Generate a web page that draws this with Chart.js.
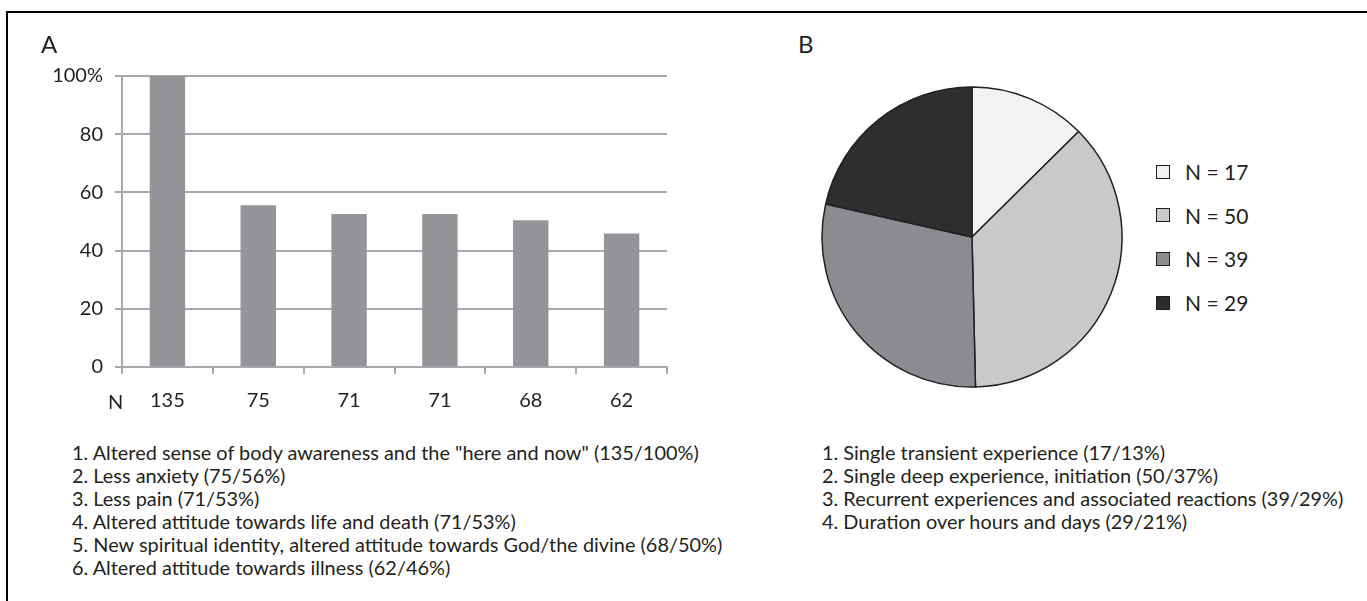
<!DOCTYPE html>
<html>
<head>
<meta charset="utf-8">
<script src="https://cdn.jsdelivr.net/npm/chart.js@4"></script>
<style>
  html, body { margin: 0; padding: 0; background: #fff; }
  #wrap { position: relative; width: 1367px; height: 601px; overflow: hidden; background: #fff; font-family: Lato, "Open Sans", sans-serif; color: #231f20; }
  #frame { position: absolute; left: 6px; top: 11px; right: -4px; bottom: -4px; border-top: 2px solid #000; border-left: 2px solid #000; }
  .abs { position: absolute; white-space: nowrap; }
  #cA { position: absolute; left: 0; top: 0; }
  #cB { position: absolute; left: 812px; top: 77px; }
  .panel { font-size: 24px; line-height: 1; }
  .list { font-size: 19.9px; line-height: 23px; }
  .leg { font-size: 21px; line-height: 1; display: flex; align-items: center; }
  .sw { width: 12px; height: 12px; border: 1px solid #231f20; margin-right: 15px; }
</style>
</head>
<body>
<div id="wrap">
  <div id="frame"></div>
  <canvas id="cA" width="700" height="420"></canvas>
  <canvas id="cB" width="320" height="320"></canvas>
  <div class="abs panel" style="left:41px; top:32px;">A</div>
  <div class="abs panel" style="left:798px; top:32px;">B</div>
  <div class="abs" id="nlab" style="left:108px; top:389px; font-size:20px; line-height:24px;">N</div>
  <div class="abs list" id="listA" style="left:72px; top:441px;"></div>
  <div class="abs list" id="listB" style="left:822px; top:441px;"></div>
  <div id="legB"></div>
</div>
<script>
// ---- Panel A data ----
const barCounts = ["135", "75", "71", "71", "68", "62"];
const barPercent = [100, 55.6, 52.6, 52.6, 50.4, 45.9];
const yTicks = [0, 20, 40, 60, 80, 100];
const itemsA = [
  '1. Altered sense of body awareness and the "here and now" (135/100%)',
  '2. Less anxiety (75/56%)',
  '3. Less pain (71/53%)',
  '4. Altered attitude towards life and death (71/53%)',
  '5. New spiritual identity, altered attitude towards God/the divine (68/50%)',
  '6. Altered attitude towards illness (62/46%)'
];

// ---- Panel B data ----
const pieCounts = [17, 50, 39, 29];
const pieColors = ['#f1f2f4', '#c8c9cb', '#8b8c90', '#2f2d30'];
const itemsB = [
  '1. Single transient experience (17/13%)',
  '2. Single deep experience, initiation (50/37%)',
  '3. Recurrent experiences and associated reactions (39/29%)',
  '4. Duration over hours and days (29/21%)'
];

document.getElementById('listA').innerHTML = itemsA.map(t => '<div>' + t.replace(/&/g,'&amp;').replace(/</g,'&lt;') + '</div>').join('');
document.getElementById('listB').innerHTML = itemsB.map(t => '<div>' + t + '</div>').join('');

const legB = document.getElementById('legB');
pieCounts.forEach((n, i) => {
  const row = document.createElement('div');
  row.className = 'abs leg';
  row.style.left = '1156px';
  row.style.top = (158.5 + i * 43.7) + 'px';
  row.style.height = '26px';
  row.innerHTML = '<span class="sw" style="background:' + pieColors[i] + '"></span><span>N = ' + n + '</span>';
  legB.appendChild(row);
});

const GRAY = '#a7a9ac';
const TXT = '#231f20';
const FONT = 'Lato';

new Chart(document.getElementById('cA'), {
  type: 'bar',
  data: {
    labels: barCounts,
    datasets: [{
      data: barPercent,
      backgroundColor: '#939598',
      borderWidth: 0,
      barPercentage: 0.39,
      categoryPercentage: 1
    }]
  },
  options: {
    responsive: false,
    animation: false,
    events: [],
    layout: { padding: { left: 0, top: 76, right: 33, bottom: 0 } },
    plugins: { legend: { display: false }, tooltip: { enabled: false } },
    scales: {
      x: {
        type: 'category',
        offset: true,
        grid: { offset: true, drawOnChartArea: false, drawTicks: true, tickLength: 7, color: GRAY, lineWidth: 2 },
        border: { display: true, color: GRAY, width: 2 },
        ticks: { color: TXT, font: { family: FONT, size: 20 }, padding: 15, maxRotation: 0, autoSkip: false },
        afterFit: s => { s.height = 53; }
      },
      y: {
        min: 0, max: 100,
        afterBuildTicks: s => { s.ticks = yTicks.map(v => ({ value: v })); },
        grid: { drawTicks: true, tickLength: 7, color: GRAY, lineWidth: 2 },
        border: { display: true, color: GRAY, width: 2 },
        ticks: { color: TXT, font: { family: FONT, size: 20 }, padding: 12,
                 callback: v => v === 100 ? v + '%' : String(v) },
        afterFit: s => { s.width = 122; }
      }
    }
  }
});

new Chart(document.getElementById('cB'), {
  type: 'pie',
  data: {
    labels: pieCounts.map(n => 'N = ' + n),
    datasets: [{
      data: pieCounts,
      backgroundColor: pieColors,
      borderColor: '#231f20',
      borderWidth: 1.5,
      radius: 150
    }]
  },
  options: {
    responsive: false,
    animation: false,
    events: [],
    layout: { padding: 0 },
    plugins: { legend: { display: false }, tooltip: { enabled: false } }
  }
});
</script>
</body>
</html>
